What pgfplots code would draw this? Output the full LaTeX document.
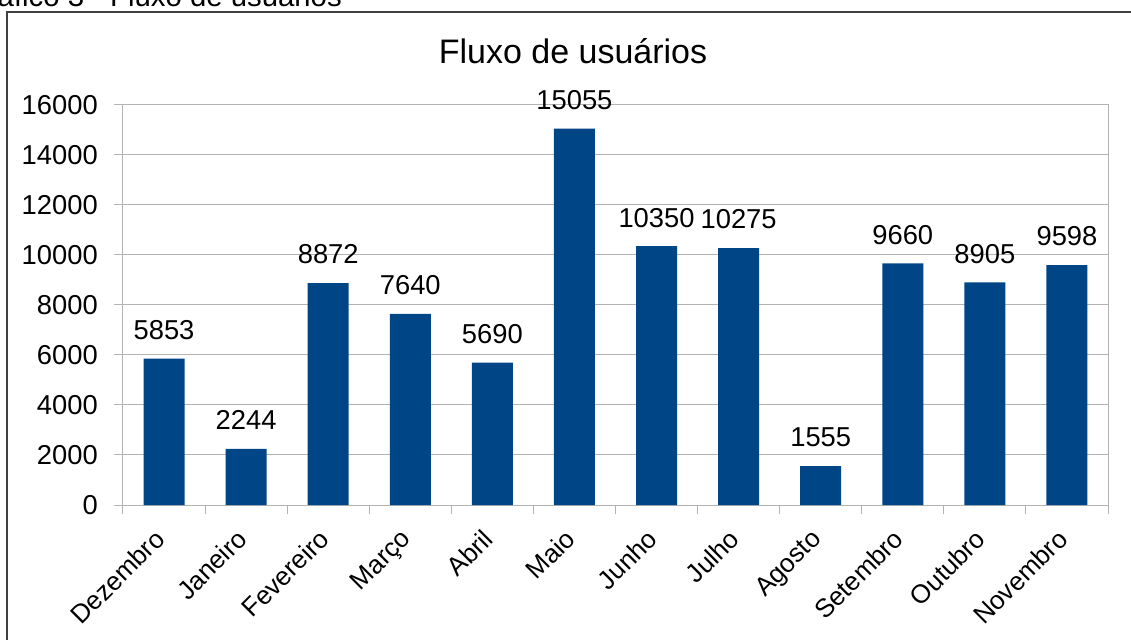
\documentclass[border=0pt]{standalone}
\usepackage{pgfplots}
\pgfplotsset{compat=1.18}
\usepackage{fontspec}
\setmainfont{Liberation Sans}
\definecolor{barblue}{HTML}{004586}
\definecolor{gridgray}{HTML}{B3B3B3}
\begin{document}
\begin{tikzpicture}
\useasboundingbox (0,0) rectangle (848.25pt,479.25pt);
\draw[line width=1pt, black!75] (5.25pt,-20pt) -- (5.25pt,470.25pt) -- (870pt,470.25pt);
\node[anchor=base east, inner sep=0pt, font=\fontsize{22}{26}\selectfont] at (256.5pt,474pt) {Gráfico 3 - Fluxo de usuários};
\node[anchor=base, inner sep=0pt, font=\fontsize{25.5}{30}\selectfont] at (429.75pt,431.25pt) {Fluxo de usuários};
\begin{axis}[
  at={(92.25pt,100.5pt)}, anchor=south west,
  scale only axis, width=738.75pt, height=300pt,
  xmin=-0.5, xmax=11.5, ymin=0, ymax=16000,
  ytick={0,2000,...,16000},
  xtick={-0.5,0.5,...,11.5},
  x tick label as interval,
  xticklabels={Dezembro,Janeiro,Fevereiro,Março,Abril,Maio,Junho,Julho,Agosto,Setembro,Outubro,Novembro},
  scaled y ticks=false,
  /pgf/number format/.cd, 1000 sep={}, assume math mode=true, /pgfplots/.cd,
  ybar, bar width=30.75pt,
  ymajorgrids, grid style={gridgray, line width=0.75pt},
  axis line style={gridgray, line width=0.75pt},
  tick style={gridgray, line width=0.75pt},
  tick align=outside, major tick length=6.75pt,
  tick pos=left,
  tick label style={font=\fontsize{20.5}{24}\selectfont, black},
  yticklabel style={inner sep=0pt, xshift=-12pt},
  xticklabel style={font=\fontsize{19.5}{23}\selectfont, rotate=45, anchor=north east, inner sep=0pt, xshift=-12.9pt, yshift=-1.2pt},
  clip=false,
  nodes near coords={\pgfmathprintnumber[1000 sep={}]{\pgfplotspointmeta}},
  nodes near coords style={font=\fontsize{20.5}{24}\selectfont, black, inner sep=0pt, anchor=south, yshift=14pt},
]
\addplot[fill=barblue, draw=none] coordinates {
  (0,5853) (1,2244) (2,8872) (3,7640) (4,5690) (5,15055)
  (6,10350) (7,10275) (8,1555) (9,9660) (10,8905) (11,9598)
};
\end{axis}
\end{tikzpicture}
\end{document}
